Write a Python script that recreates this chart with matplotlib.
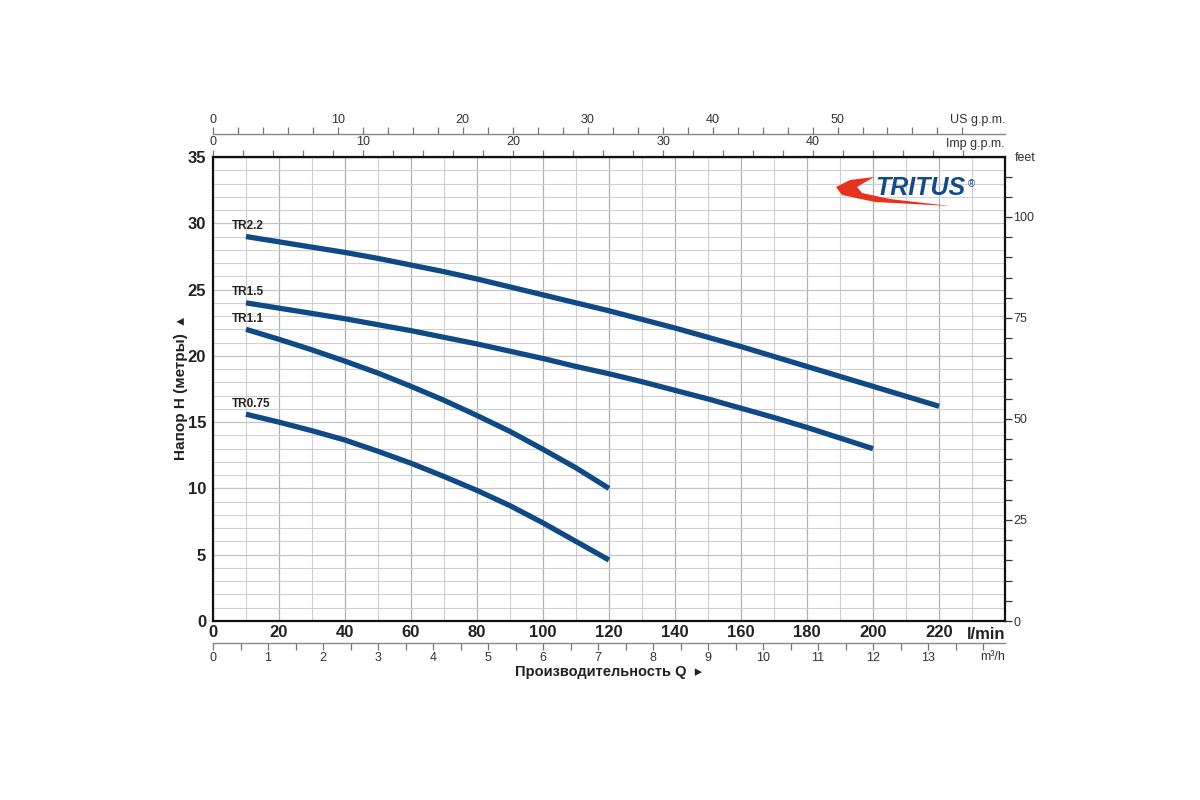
import numpy as np
import matplotlib
matplotlib.use('Agg')
import matplotlib.pyplot as plt
from matplotlib.ticker import MultipleLocator, FixedLocator
from matplotlib.patches import Polygon

# pump curves: flow in l/min, head in metres
q_tr22 = [10, 20, 30, 40, 50, 60, 70, 80, 90, 100, 110, 120, 130, 140, 150, 160,
          170, 180, 190, 200, 210, 220]
h_tr22 = [29.0, 28.6, 28.2, 27.8, 27.35, 26.85, 26.35, 25.8, 25.2, 24.6, 24.0, 23.4,
          22.75, 22.1, 21.4, 20.7, 19.95, 19.2, 18.45, 17.7, 16.95, 16.2]
q_tr15 = [10, 20, 30, 40, 50, 60, 70, 80, 90, 100, 110, 120, 130, 140, 150, 160,
          170, 180, 190, 200]
h_tr15 = [24.0, 23.6, 23.2, 22.8, 22.35, 21.9, 21.4, 20.9, 20.35, 19.8, 19.2,
          18.65, 18.05, 17.4, 16.75, 16.05, 15.35, 14.6, 13.8, 13.0]
q_tr11 = [10, 20, 30, 40, 50, 60, 70, 80, 90, 100, 110, 120]
h_tr11 = [22.0, 21.25, 20.45, 19.6, 18.7, 17.7, 16.65, 15.5, 14.3, 12.95, 11.55, 10.0]
q_tr075 = [10, 20, 30, 40, 50, 60, 70, 80, 90, 100, 110, 120]
h_tr075 = [15.6, 15.0, 14.35, 13.65, 12.8, 11.9, 10.9, 9.85, 8.7, 7.4, 6.0, 4.6]

curve_names = ['TR2.2', 'TR1.5', 'TR1.1', 'TR0.75']
curves_q = [q_tr22, q_tr15, q_tr11, q_tr075]
curves_h = [h_tr22, h_tr15, h_tr11, h_tr075]

lmin_ticks = list(range(0, 221, 20))
head_ticks = list(range(0, 36, 5))
feet_labels = [0, 25, 50, 75, 100]
m3h_labels = list(range(0, 14))
usgpm_labels = [0, 10, 20, 30, 40, 50]
impgpm_labels = [0, 10, 20, 30, 40]

LINE = '#0f4a86'
FONT = 'Liberation Sans'

fig = plt.figure(figsize=(12, 8), dpi=100)
ax = fig.add_axes([0.1775, 0.22375, 0.66, 0.58])

ax.set_xlim(0, 240)
ax.set_ylim(0, 35)

# grid
ax.xaxis.set_minor_locator(MultipleLocator(10))
ax.yaxis.set_minor_locator(MultipleLocator(1))
ax.grid(which='major', axis='x', color='#b0b0b0', lw=0.9)
ax.grid(which='major', axis='y', color='#c4c4c4', lw=0.9)
ax.grid(which='minor', color='#d0d0d0', lw=0.8)
ax.set_axisbelow(True)

for s in ax.spines.values():
    s.set_linewidth(1.6)
    s.set_color('#111111')

ax.set_xticks(lmin_ticks)
ax.set_yticks(head_ticks)
ax.tick_params(which='both', length=0)
ax.tick_params(axis='x', pad=3)
ax.tick_params(axis='y', pad=5)
for lab in ax.get_xticklabels() + ax.get_yticklabels():
    lab.set_fontfamily(FONT)
    lab.set_fontweight('bold')
    lab.set_fontsize(12)
    lab.set_color('#222222')

for name, q, h in zip(curve_names, curves_q, curves_h):
    ax.plot(q, h, color=LINE, lw=3.8, solid_capstyle='butt', solid_joinstyle='round')
    ax.text(q[0] - 4.2, h[0] + 0.35, name, family=FONT, weight='bold',
            fontsize=8.5, color='#222222', ha='left', va='bottom')

# right axis in feet
axf = ax.twinx()
axf.set_ylim(0, 35 * 3.28084)
axf.yaxis.set_major_locator(FixedLocator(feet_labels))
axf.yaxis.set_minor_locator(MultipleLocator(5))
axf.tick_params(which='both', length=5, width=0.9, color='#333333', labelsize=9, pad=1)
for lab in axf.get_yticklabels():
    lab.set_fontfamily(FONT)
    lab.set_color('#333333')
for s in axf.spines.values():
    s.set_visible(False)
axf.text(1.012, 0.998, 'feet', transform=ax.transAxes, family=FONT, fontsize=9,
         color='#333333', ha='left', va='center')


def sec_axis(loc, to_sec, from_sec, labels, minor_step, minor_max, pad):
    sec = ax.secondary_xaxis(loc, functions=(to_sec, from_sec))
    sec.xaxis.set_major_locator(FixedLocator(labels))
    sec.xaxis.set_minor_locator(FixedLocator(np.arange(0, minor_max + 0.01, minor_step)))
    sec.tick_params(which='both', length=5, width=0.9, color='#777777',
                    labelsize=9, labelcolor='#333333', pad=pad)
    for lab in sec.get_xticklabels():
        lab.set_fontfamily(FONT)
    for s in sec.spines.values():
        s.set_color('#888888')
        s.set_linewidth(1.0)
    return sec


sec_axis('top', lambda q: q / 4.546, lambda g: g * 4.546, impgpm_labels, 2, 50, 1.5)
sec_axis(1.05, lambda q: q / 3.785, lambda g: g * 3.785, usgpm_labels, 2, 60, 0.5)
sec_axis(-0.048, lambda q: q * 0.06, lambda m: m / 0.06, m3h_labels, 0.5, 14, 1.0)

# unit labels
ax.text(240, -0.45, 'l/min', family=FONT, weight='bold', fontsize=12,
        color='#222222', ha='right', va='top')
ax.text(1.0, -0.064, 'm³/h', transform=ax.transAxes, family=FONT, fontsize=9,
        color='#333333', ha='right', va='top')
ax.text(1.0, 1.016, 'Imp g.p.m.', transform=ax.transAxes, family=FONT, fontsize=9,
        color='#333333', ha='right', va='bottom')
ax.text(1.0, 1.066, 'US g.p.m.', transform=ax.transAxes, family=FONT, fontsize=9,
        color='#333333', ha='right', va='bottom')

ax.set_ylabel('Напор H (метры)  ▴', family=[FONT, 'DejaVu Sans'],
              weight='bold', fontsize=11, color='#222222', labelpad=0)
ax.set_xlabel('Производительность Q  ▸', family=[FONT, 'DejaVu Sans'],
              weight='bold', fontsize=10.5, color='#222222', labelpad=18)


# logo (pixel positions converted to axes fraction)
def px(x, y):
    return ((x - 213) / 792, (621 - y) / 464)


swoosh = [px(874, 177), px(850, 180), px(836, 187), px(842, 195), px(875, 202),
          px(950, 206), px(890, 199), px(862, 193), px(857, 187)]
ax.add_patch(Polygon(swoosh, closed=True, transform=ax.transAxes,
                     facecolor='#e8321e', edgecolor='none', zorder=5))
lx, ly = px(920, 188)
ax.text(lx, ly, 'TRITUS', transform=ax.transAxes, family=FONT,
        weight='bold', style='italic', fontsize=18, color='#134a8e',
        ha='center', va='center', zorder=6)
rx, ry = px(971, 184)
ax.text(rx, ry, '®', transform=ax.transAxes, family=FONT, fontsize=7,
        color='#134a8e', ha='center', va='center', zorder=6)

fig.savefig('out.png', dpi=100)
